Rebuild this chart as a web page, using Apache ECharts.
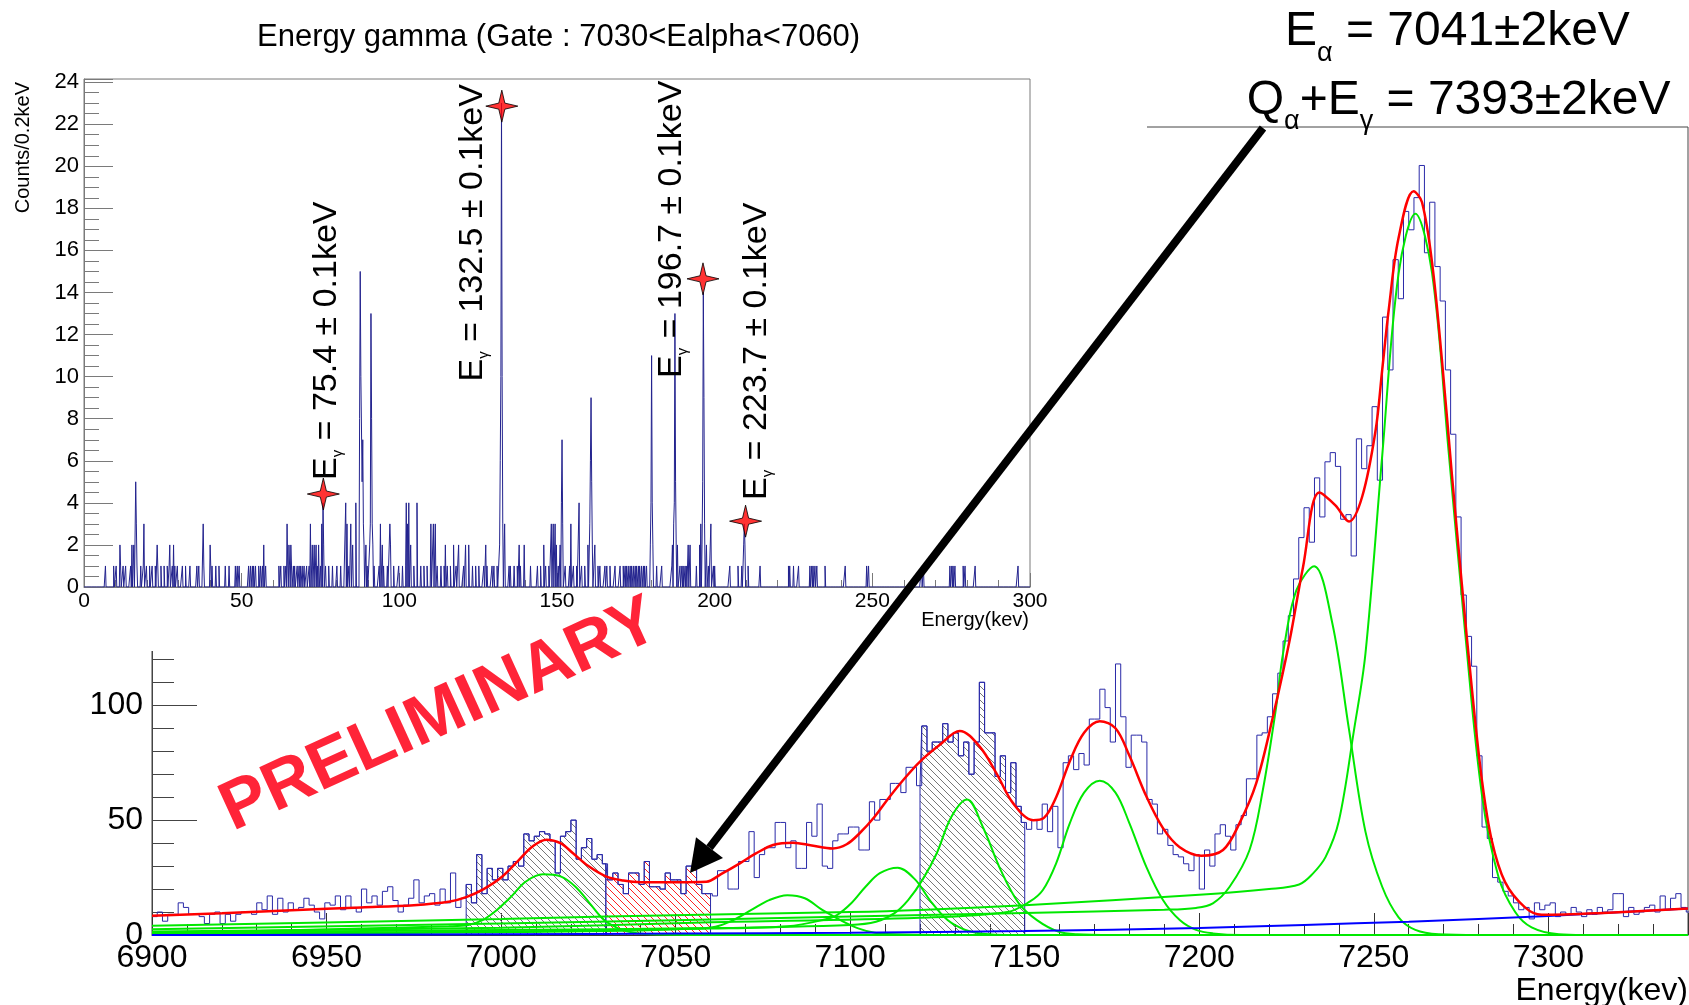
<!DOCTYPE html>
<html>
<head>
<meta charset="utf-8">
<script src="https://cdn.jsdelivr.net/npm/echarts@6/dist/echarts.min.js"></script>
<style>
html, body { margin: 0; padding: 0; background: #fff; }
#chart { width: 1689px; height: 1005px; }
</style>
</head>
<body>
<div id="chart"></div>
<script>
const FONT = '"Liberation Sans", Arial, Helvetica, sans-serif';

// ---- alpha spectrum (main plot), 1.5 keV bins from 6900 ----
const alphaStart = 6900;
const alphaBin = 1.5;
const alphaCounts = [
  8, 10, 6, 9, 9, 14, 12, 9, 9, 8,          // 6900
  5, 9, 10, 5, 9, 6, 9, 10, 10, 9,          // 6915
  14, 11, 17, 9, 16, 10, 14, 11, 12, 16,    // 6930
  13, 10, 7, 14, 13, 17, 11, 17, 12, 10,    // 6945
  20, 14, 17, 13, 19, 21, 15, 10, 13, 16,   // 6960
  24, 14, 17, 18, 13, 20, 14, 27, 12, 16,   // 6975
  22, 14, 35, 18, 29, 24, 29, 24, 30, 32,   // 6990
  30, 44, 41, 43, 45, 44, 41, 27, 43, 45,   // 7005
  50, 33, 38, 42, 33, 35, 31, 24, 27, 22,   // 7020
  18, 27, 27, 22, 32, 21, 21, 20, 27, 24,   // 7035
  24, 18, 30, 30, 22, 18, 18, 17, 28, 28,   // 7050
  20, 20, 32, 32, 45, 25, 35, 38, 38, 49,   // 7065
  49, 38, 41, 29, 29, 49, 43, 57, 30, 29,   // 7080
  41, 44, 44, 47, 47, 37, 37, 58, 50, 59,   // 7095
  59, 66, 66, 62, 73, 73, 65, 91, 80, 84,   // 7110
  84, 92, 84, 88, 78, 84, 70, 84, 110, 88,  // 7125
  88, 69, 78, 62, 75, 56, 49, 46, 50, 46,   // 7140
  57, 45, 56, 38, 75, 78, 72, 79, 74, 94,   // 7155
  94, 107, 99, 84, 118, 95, 73, 87, 87, 84, // 7170
  59, 57, 44, 46, 39, 35, 34, 31, 28, 35,   // 7185
  20, 37, 30, 44, 48, 43, 37, 48, 52, 68,   // 7200
  68, 87, 88, 95, 105, 114, 128, 139, 155, 173,   // 7215
  186, 171, 199, 182, 206, 210, 204, 181, 183, 165, // 7230
  216, 203, 213, 230, 198, 269, 246, 294, 277, 315, // 7245
  307, 321, 335, 297, 319, 291, 276, 246, 218, 182, // 7260
  148, 130, 117, 78, 47, 42, 25, 23, 19, 17,  // 7275
  14, 11, 12, 7, 14, 11, 13, 14, 8, 10,       // 7290
  9, 12, 10, 8, 11, 9, 12, 10, 11, 18,        // 7305
  18, 8, 12, 9, 10, 12, 13, 10, 17, 11,       // 7320
  16, 18, 12, 10                              // 7335
];

// total fit (red)
const fitTotal = [
  [6900, 8.4], [6920, 9.5], [6940, 10.8], [6960, 12], [6975, 13], [6985, 14.5],
  [6990, 16.5], [6995, 20], [7000, 25], [7005, 32.5], [7009, 38.5], [7013, 41.5],
  [7017, 40], [7020.6, 35.6], [7025, 30], [7030.2, 25.4], [7035, 23.7], [7040, 23],
  [7050, 23], [7058.8, 23.2], [7063, 26.5], [7068.4, 31.2], [7073, 35.5], [7077.9, 39.2],
  [7083.6, 40.2], [7089, 39], [7095, 37.7], [7099, 39.5], [7102.7, 44.3], [7107, 51.5],
  [7111.3, 60.2], [7115.5, 68], [7120, 75.5], [7125.6, 82.7], [7131.4, 88.8], [7137.1, 82],
  [7141.9, 70.4], [7146.7, 57.3], [7152.4, 50], [7155.5, 51], [7159, 60], [7163, 76],
  [7167, 88], [7171.5, 93], [7176, 90], [7180, 78], [7184.8, 60.5], [7189.6, 46.5],
  [7194.4, 38.2], [7200.6, 34.5], [7206.8, 37], [7211.5, 48.6], [7216.3, 66], [7221.1, 95],
  [7225.9, 128.4], [7229.7, 160], [7234.4, 192.6], [7239, 187], [7242.9, 180], [7246.7, 191],
  [7250.5, 219.6], [7252.4, 246], [7254.3, 272.6], [7257.1, 303.5], [7261.4, 323.8],
  [7263.8, 319], [7266.7, 292.5], [7269.5, 250.5], [7272.4, 199.8], [7275.2, 153],
  [7278.1, 107], [7281, 67], [7283.8, 41], [7287.6, 23], [7293.3, 12], [7298.1, 8.8],
  [7314.3, 9.5], [7340, 11.5]
];

// fit components (green)
const peak1 = [
  [6900, 0.5], [6925, 1.5], [6960, 2.8], [6985, 3.8], [6990.6, 4.4], [6994.7, 6.5],
  [6998.8, 10.9], [7002.9, 16.7], [7007, 23.2], [7012, 26.4], [7017.2, 25.4], [7021.3, 21],
  [7025.4, 13.8], [7029.5, 6.5], [7033.6, 2.9], [7038, 1], [7045, 0.2], [7060, 0], [7340, 0]
];
const peak2 = [
  [6900, 0.3], [7000, 1.2], [7040, 2], [7056, 2.8], [7061.4, 3.6], [7066.5, 6.5],
  [7071.7, 10.9], [7076.8, 15.2], [7082, 17.3], [7087, 16], [7092, 10.9], [7097.2, 6.5],
  [7102.3, 2.9], [7107, 1], [7115, 0.2], [7130, 0], [7340, 0]
];
const peak3 = [
  [6900, 0.5], [7000, 1.5], [7060, 2.8], [7082, 3.8], [7092.1, 6.5], [7096.2, 8.7],
  [7100.3, 13.8], [7104.4, 21], [7108.5, 26.9], [7113.6, 29.3], [7118.7, 24], [7122.8, 15.2],
  [7127.9, 6.5], [7133, 2.2], [7138, 0.6], [7145, 0], [7340, 0]
];
const peak4 = [
  [6900, 1], [7000, 2.2], [7060, 3], [7100, 4.4], [7107.4, 5.8], [7112.6, 9.4],
  [7116.6, 15.2], [7120.7, 24], [7124.8, 35.6], [7129, 51.5], [7133.5, 59], [7138, 47],
  [7143.2, 28], [7148.3, 13.8], [7153.5, 6.5], [7159.6, 1.5], [7165, 0.3], [7175, 0], [7340, 0]
];
const peak5 = [
  [6900, 1.5], [7000, 3.2], [7060, 5.5], [7120, 7.5], [7145, 10], [7151.4, 14.5],
  [7155.2, 19.6], [7159, 31.2], [7162.9, 48.6], [7167, 62], [7171.5, 67.2], [7176, 62],
  [7180, 48.6], [7184.8, 29.8], [7189.6, 15.2], [7194.4, 6.5], [7199.1, 2.2], [7203.9, 0.7],
  [7212, 0], [7340, 0]
];
const peak6 = [
  [6900, 2.5], [7000, 5], [7100, 8], [7150, 9.6], [7190, 11], [7199.1, 11.8], [7203.9, 13.8],
  [7208.7, 21], [7214.4, 37], [7218.2, 63], [7222, 99], [7224, 122.6], [7227.8, 150],
  [7232.9, 160.5], [7238.1, 135.8], [7242.9, 89.4], [7247.6, 45], [7252.4, 21], [7257.1, 7.7],
  [7261.9, 2.2], [7268.6, 0.3], [7280, 0], [7340, 0]
];
const peak7 = [
  [6900, 4], [7000, 7], [7030, 8], [7100, 10], [7120, 10.9], [7150, 13], [7200, 17.5],
  [7220, 20], [7228.6, 22], [7232.4, 26.5], [7236.2, 34], [7240, 49.7], [7244.3, 89],
  [7247.6, 122.5], [7252.4, 208.6], [7257.1, 288], [7261.9, 314], [7266.7, 288],
  [7271.4, 211], [7276.2, 131], [7281, 60.7], [7285.7, 25.4], [7290.5, 10], [7295.2, 3.3],
  [7303, 0.3], [7310, 0], [7340, 0]
];
const peaks = [peak1, peak2, peak3, peak4, peak5, peak6, peak7];

// background (blue)
const background = [
  [6900, 0], [6950, 0.1], [7000, 0.3], [7050, 0.6], [7100, 1], [7150, 1.7],
  [7200, 3], [7230, 4.4], [7260, 5.8], [7300, 8.3], [7340, 11.5]
];

// hatched gates
const gatesGray = [[6990, 7030], [7120, 7150]];
const gateRed = [7030, 7060];

// ---- gamma spectrum (inset), 0.2 keV bins ----
const gammaBin = 0.2;
const gammaMax = 300;
const gammaOnes = [
  6.9, 9.5, 10.3, 11.6, 12.5, 13.2, 14.8, 15.6, 16.9, 18.0, 18.8, 19.9, 20.8, 21.7, 22.7,
  23.5, 24.5, 25.4, 26.4, 27.0, 28.0, 28.8, 29.6, 31.2, 32.2, 33.6, 35.9, 36.5, 38.1, 40.2,
  40.7, 41.8, 42.8, 44.9, 46.0, 48.1, 48.6, 49.2, 52.3, 52.9, 53.4, 53.9, 54.4, 55.5, 56.0,
  56.6, 57.6, 61.8, 62.4, 63.4, 64.0, 64.7, 65.3, 65.8, 66.4, 66.8, 67.7, 68.2, 68.7, 69.2,
  69.8, 70.6, 71.4, 72.4, 72.9, 73.5, 74.0, 75.1, 76.6, 77.7, 78.8, 80.3, 81.4, 84.0, 89.9,
  92.0, 93.6, 95.1, 96.2, 98.3, 99.9, 101.0, 102.0, 104.7, 106.8, 107.8, 108.9, 112.1, 113.2,
  114.2, 115.2, 116.3, 118.0, 120.5, 123.2, 124.2, 125.3, 126.9, 127.9, 129.5, 130.0, 131.0,
  134.8, 135.3, 136.4, 137.4, 138.5, 141.6, 143.8, 144.8, 146.4, 147.5, 150.4, 152.6, 154.1,
  155.2, 156.3, 157.8, 158.9, 163.1, 163.7, 165.2, 165.8, 166.8, 168.4, 170.0, 171.1, 171.6,
  172.1, 172.6, 173.2, 173.7, 174.2, 174.8, 175.3, 175.8, 176.3, 176.9, 177.4, 177.9, 178.5,
  181.6, 183.2, 186.4, 189.0, 189.6, 190.1, 190.6, 191.1, 194.3, 198.0, 199.6, 200.1, 204.9,
  207.5, 208.6, 210.7, 214.4, 223.4, 223.9, 225.0, 226.6, 230.3, 230.8, 231.3, 231.8, 232.4,
  235.0, 241.4, 248.2, 248.8, 265.7, 266.2, 274.7, 275.2, 275.7, 276.2, 278.9, 279.4, 282.6,
  296.3
];
const gammaMulti = [
  [11.4, 2], [15.3, 2], [15.9, 2], [16.4, 5], [16.7, 3], [19.0, 3], [23.3, 2], [27.3, 2],
  [28.5, 2], [37.8, 3], [40.0, 2], [57.1, 2], [64.5, 3], [65.0, 2], [65.6, 2], [71.9, 3],
  [72.5, 2], [73.0, 2], [73.6, 2], [74.5, 2], [75.5, 3], [75.9, 4], [76.1, 2], [83.0, 4],
  [83.5, 3], [84.6, 3], [85.2, 2], [86.2, 4], [87.4, 8], [87.6, 15], [87.8, 10], [88.0, 10],
  [88.2, 5], [88.4, 7], [88.6, 3], [88.8, 2], [89.4, 2], [90.6, 2], [90.8, 3], [91.0, 13],
  [91.2, 8], [91.4, 3], [91.6, 2], [94.1, 3], [94.7, 2], [97.0, 3], [97.3, 2], [102.3, 4],
  [102.6, 3], [103.1, 4], [103.6, 2], [105.7, 4], [110.0, 3], [110.8, 3], [111.5, 3],
  [114.7, 2], [117.3, 2], [118.9, 2], [121.0, 2], [122.1, 2], [127.4, 2], [131.8, 2],
  [132.0, 6], [132.2, 10], [132.4, 23], [132.6, 10], [132.8, 3], [133.4, 3], [138.0, 2],
  [139.6, 2], [145.9, 2], [148.3, 3], [148.9, 3], [149.4, 3], [149.9, 2], [151.0, 2],
  [151.5, 4], [151.7, 7], [151.9, 3], [154.4, 3], [157.0, 4], [159.8, 2], [160.4, 3],
  [160.6, 6], [160.8, 9], [161.0, 5], [161.2, 2], [162.0, 2], [179.7, 2], [179.9, 4],
  [180.1, 11], [180.3, 4], [180.5, 2], [186.6, 2], [187.0, 3], [187.2, 4], [187.4, 13],
  [187.6, 5], [187.8, 2], [188.2, 2], [191.7, 2], [192.2, 2], [195.2, 2], [195.7, 3],
  [196.1, 2], [196.3, 5], [196.5, 14], [196.7, 9], [196.9, 3], [197.5, 2], [198.9, 3],
  [209.3, 2], [209.5, 3], [209.7, 2]
];

// marked gamma lines (stars) and their quoted energies
const starE = [75.9, 132.5, 196.3, 209.8];
const starN = [4.42, 22.86, 14.65, 3.13];
const starText = ['75.4', '132.5', '196.7', '223.7'];

// ---- build step tables ----
const alphaStep = alphaCounts.map((v, i) => [alphaStart + i * alphaBin, v]);
alphaStep.push([alphaStart + alphaCounts.length * alphaBin, alphaCounts[alphaCounts.length - 1]]);

function gateData(lo, hi) {
  const pts = [[lo, 0]];
  const i0 = Math.floor((lo - alphaStart) / alphaBin + 1e-9);
  const i1 = Math.ceil((hi - alphaStart) / alphaBin - 1e-9) - 1;
  for (let i = i0; i <= i1; i++) {
    pts.push([Math.max(lo, alphaStart + i * alphaBin), alphaCounts[i]]);
  }
  pts.push([hi, alphaCounts[i1]]);
  pts.push([hi, 0]);
  return pts;
}

const nGamma = Math.round(gammaMax / gammaBin);
const gammaCounts = new Array(nGamma).fill(0);
gammaOnes.forEach(e => { gammaCounts[Math.floor(e / gammaBin + 1e-6)] = 1; });
gammaMulti.forEach(([e, n]) => { gammaCounts[Math.floor(e / gammaBin + 1e-6)] = n; });
const gammaStep = gammaCounts.map((v, i) => [i * gammaBin, v]);
gammaStep.push([gammaMax, gammaCounts[nGamma - 1]]);

function hatch(color) {
  const s = 7;
  const c = document.createElement('canvas');
  c.width = s; c.height = s;
  const ctx = c.getContext('2d');
  ctx.strokeStyle = color;
  ctx.lineWidth = 1;
  ctx.beginPath();
  ctx.moveTo(-1, -1); ctx.lineTo(s + 1, s + 1);
  ctx.stroke();
  return { image: c, repeat: 'repeat' };
}

const chart = echarts.init(document.getElementById('chart'));

const gateSeries = [];
gatesGray.forEach(g => gateSeries.push({
  type: 'line', step: 'end', data: gateData(g[0], g[1]), showSymbol: false,
  lineStyle: { color: '#2a2aa8', width: 1 }, areaStyle: { color: hatch('#777777'), opacity: 1 },
  z: 1, silent: true
}));
gateSeries.push({
  type: 'line', step: 'end', data: gateData(gateRed[0], gateRed[1]), showSymbol: false,
  lineStyle: { color: '#2a2aa8', width: 1 }, areaStyle: { color: hatch('#ff2020'), opacity: 1 },
  z: 1, silent: true
});

const greenSeries = peaks.map(p => ({
  type: 'line', data: p, smooth: 0.35, showSymbol: false,
  lineStyle: { color: '#00e800', width: 2 }, z: 3, silent: true
}));

const option = {
  animation: false,
  backgroundColor: '#fff',
  textStyle: { fontFamily: FONT },
  grid: [
    { left: 152, top: 127, width: 1536, height: 808, show: true, borderColor: '#444',
      borderWidth: 1, backgroundColor: 'transparent', outerBoundsMode: 'none' },
    { left: 84, top: 79, width: 946, height: 508, show: true, borderColor: '#7a7a7a',
      borderWidth: 1, backgroundColor: 'transparent', z: 55, outerBoundsMode: 'none' }
  ],
  xAxis: [
    { type: 'value', gridIndex: 0, min: 6900, max: 7340, interval: 50,
      axisLine: { onZero: false, lineStyle: { color: '#333', width: 1 } },
      axisTick: { inside: true, length: 22, lineStyle: { color: '#333' } },
      minorTick: { show: true, splitNumber: 5, length: 11, lineStyle: { color: '#333' } },
      splitLine: { show: false },
      axisLabel: { fontSize: 32, color: '#000', margin: 7, showMaxLabel: false, fontFamily: FONT,
        formatter: v => String(v) } },
    { type: 'value', gridIndex: 1, min: 0, max: 300, interval: 50, z: 60,
      axisLine: { onZero: false, lineStyle: { color: '#7a7a7a', width: 1 } },
      axisTick: { inside: true, length: 14, lineStyle: { color: '#7a7a7a' } },
      minorTick: { show: true, splitNumber: 5, length: 7, lineStyle: { color: '#7a7a7a' } },
      splitLine: { show: false },
      axisLabel: { fontSize: 21, color: '#000', margin: 4, fontFamily: FONT,
        formatter: v => String(v) } }
  ],
  yAxis: [
    { type: 'value', gridIndex: 0, min: 0, max: 351.75, interval: 50,
      axisLine: { onZero: false, lineStyle: { color: '#444', width: 1 } },
      axisTick: { inside: true, length: 45, lineStyle: { color: '#444' } },
      minorTick: { show: true, splitNumber: 5, length: 22, lineStyle: { color: '#444' } },
      splitLine: { show: false },
      axisLabel: { fontSize: 32, color: '#000', margin: 9, showMaxLabel: false, fontFamily: FONT } },
    { type: 'value', gridIndex: 1, min: 0, max: 24.15, interval: 2, z: 60,
      axisLine: { onZero: false, lineStyle: { color: '#7a7a7a', width: 1 } },
      axisTick: { inside: true, length: 29, lineStyle: { color: '#7a7a7a' } },
      minorTick: { show: true, splitNumber: 4, length: 15, lineStyle: { color: '#7a7a7a' } },
      splitLine: { show: false },
      axisLabel: { fontSize: 22, color: '#000', margin: 5, showMaxLabel: false, fontFamily: FONT } }
  ],
  series: [
    ...gateSeries,
    { type: 'line', step: 'end', data: alphaStep, showSymbol: false,
      lineStyle: { color: '#2a2aa8', width: 1 }, z: 2, silent: true },
    ...greenSeries,
    { type: 'line', data: background, smooth: 0.3, showSymbol: false,
      lineStyle: { color: '#0000ff', width: 2 }, z: 4, silent: true },
    { type: 'line', data: fitTotal, smooth: 0.35, showSymbol: false,
      lineStyle: { color: '#ff0000', width: 2.5 }, z: 5, silent: true },
    { type: 'line', xAxisIndex: 1, yAxisIndex: 1, step: 'end', data: gammaStep, showSymbol: false,
      lineStyle: { color: '#23238e', width: 1 }, z: 60, silent: true },
    { type: 'scatter', xAxisIndex: 1, yAxisIndex: 1, z: 65, silent: true,
      symbol: 'path://M0,-10 L1.9,-1.9 L10,0 L1.9,1.9 L0,10 L-1.9,1.9 L-10,0 L-1.9,-1.9 Z',
      symbolSize: 32,
      itemStyle: { color: '#ff0000', borderColor: '#000', borderWidth: 1 },
      data: starE.map((e, i) => [e, starN[i]]) }
  ]
};

chart.setOption(option);

// ---- annotations ----
const labelAnchors = [[327, 480], [472.5, 381.5], [671.5, 378], [757, 500]];
const richSmall = {
  m: { fontSize: 34, lineHeight: 37, fontFamily: FONT, fill: '#000' },
  s: { fontSize: 15, lineHeight: 15, verticalAlign: 'bottom', fontFamily: FONT, fill: '#000' }
};
const richBig = {
  m: { fontSize: 48, lineHeight: 70, fontFamily: FONT, fill: '#000' },
  s: { fontSize: 27, lineHeight: 27, verticalAlign: 'bottom', fontFamily: FONT, fill: '#000' }
};

const graphics = [
  { type: 'rect', shape: { x: 0, y: 0, width: 1147, height: 651 }, style: { fill: '#fff' }, z: 50, silent: true },
  { type: 'text', x: 558.6, y: 37.6, z: 100,
    style: { text: 'Energy gamma (Gate : 7030<Ealpha<7060)', font: '31px ' + FONT, fill: '#000',
      textAlign: 'center', textVerticalAlign: 'middle' } },
  { type: 'text', x: 23.6, y: 82, rotation: Math.PI / 2, z: 100,
    style: { text: 'Counts/0.2keV', font: '20px ' + FONT, fill: '#000',
      textAlign: 'right', textVerticalAlign: 'middle' } },
  { type: 'text', x: 1029, y: 620.5, z: 100,
    style: { text: 'Energy(kev)', font: '20px ' + FONT, fill: '#000',
      textAlign: 'right', textVerticalAlign: 'middle' } },
  { type: 'text', x: 1688, y: 991.4, z: 100,
    style: { text: 'Energy(kev)', font: '32px ' + FONT, fill: '#000',
      textAlign: 'right', textVerticalAlign: 'middle' } },
  { type: 'text', x: 1285, y: -3, z: 100,
    style: { text: '{m|E}{s|α}{m| = 7041±2keV}', rich: richBig,
      textAlign: 'left', textVerticalAlign: 'top' } },
  { type: 'text', x: 1246.7, y: 65.5, z: 100,
    style: { text: '{m|Q}{s|α}{m|+E}{s|γ}{m| = 7393±2keV}', rich: richBig,
      textAlign: 'left', textVerticalAlign: 'top' } },
  { type: 'line', shape: { x1: 1263, y1: 128, x2: 709.5, y2: 847.6 }, z: 110,
    style: { stroke: '#000', lineWidth: 8, lineCap: 'butt' } },
  { type: 'polygon', shape: { points: [[690, 873], [723, 858], [696, 837.2]] }, z: 110,
    style: { fill: '#000' } },
  { type: 'text', x: 440, y: 716, rotation: 24.5 * Math.PI / 180, z: 100,
    style: { text: 'PRELIMINARY', font: 'bold 69px ' + FONT, fill: '#ff2438',
      textAlign: 'center', textVerticalAlign: 'middle' } }
];
starText.forEach((t, i) => {
  graphics.push({
    type: 'text', x: labelAnchors[i][0], y: labelAnchors[i][1], rotation: Math.PI / 2, z: 100,
    style: { text: '{m|E}{s|γ}{m| = ' + t + ' ± 0.1keV}', rich: richSmall,
      textAlign: 'left', textVerticalAlign: 'middle' }
  });
});

chart.setOption({ graphic: { elements: graphics } });
window.addEventListener('resize', () => chart.resize());
</script>
</body>
</html>
